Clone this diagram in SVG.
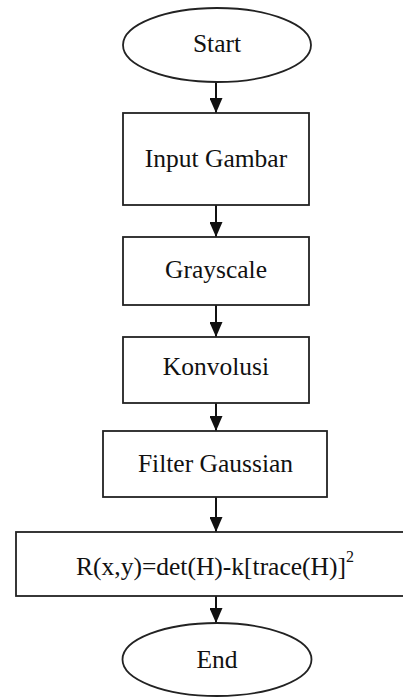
<svg xmlns="http://www.w3.org/2000/svg" width="403" height="697" viewBox="0 0 403 697">
  <defs>
    <marker id="arr" markerWidth="15" markerHeight="13" refX="10" refY="5" orient="auto" markerUnits="userSpaceOnUse" viewBox="0 0 10 10" preserveAspectRatio="none">
      <path d="M0,0 L10,5 L0,10 Z" fill="#111"/>
    </marker>
    <style>
      .shape { fill: #fff; stroke: #222; stroke-width: 1.8; }
      .lbl { font-size: 25.5px; fill: #111; text-anchor: middle; }
      .conn { stroke: #111; stroke-width: 2; fill: none; marker-end: url(#arr); }
    </style>
  </defs>
  <rect width="403" height="697" fill="#fff"/>

  <g id="connectors">
    <line class="conn" x1="216" y1="82" x2="216" y2="113"/>
    <line class="conn" x1="216" y1="205" x2="216" y2="237"/>
    <line class="conn" x1="216" y1="305" x2="216" y2="337"/>
    <line class="conn" x1="216" y1="403" x2="216" y2="431"/>
    <line class="conn" x1="216" y1="497" x2="216" y2="532"/>
    <line class="conn" x1="216" y1="596" x2="216" y2="623"/>
  </g>

  <g font-family="'Liberation Serif', 'Times New Roman', Times, serif">
  <g id="start">
    <ellipse class="shape" cx="217" cy="45" rx="94" ry="37"/>
    <text class="lbl" x="217" y="52">Start</text>
  </g>

  <g id="input-gambar">
    <rect class="shape" x="123" y="113" width="186" height="92"/>
    <text class="lbl" x="216" y="167">Input Gambar</text>
  </g>

  <g id="grayscale">
    <rect class="shape" x="123" y="237" width="186" height="68"/>
    <text class="lbl" x="216" y="278">Grayscale</text>
  </g>

  <g id="konvolusi">
    <rect class="shape" x="123" y="337" width="186" height="66"/>
    <text class="lbl" x="216" y="375">Konvolusi</text>
  </g>

  <g id="filter-gaussian">
    <rect class="shape" x="103" y="431" width="224" height="66"/>
    <text class="lbl" x="215.5" y="472">Filter Gaussian</text>
  </g>

  <g id="harris-response">
    <rect class="shape" x="16" y="532" width="400" height="64"/>
    <text class="lbl" x="215" y="575">R(x,y)=det(H)-k[trace(H)]<tspan font-size="16" dy="-13">2</tspan></text>
  </g>

  <g id="end">
    <ellipse class="shape" cx="217" cy="659.5" rx="94.5" ry="36.5"/>
    <text class="lbl" x="217" y="668">End</text>
  </g>
  </g>
</svg>
